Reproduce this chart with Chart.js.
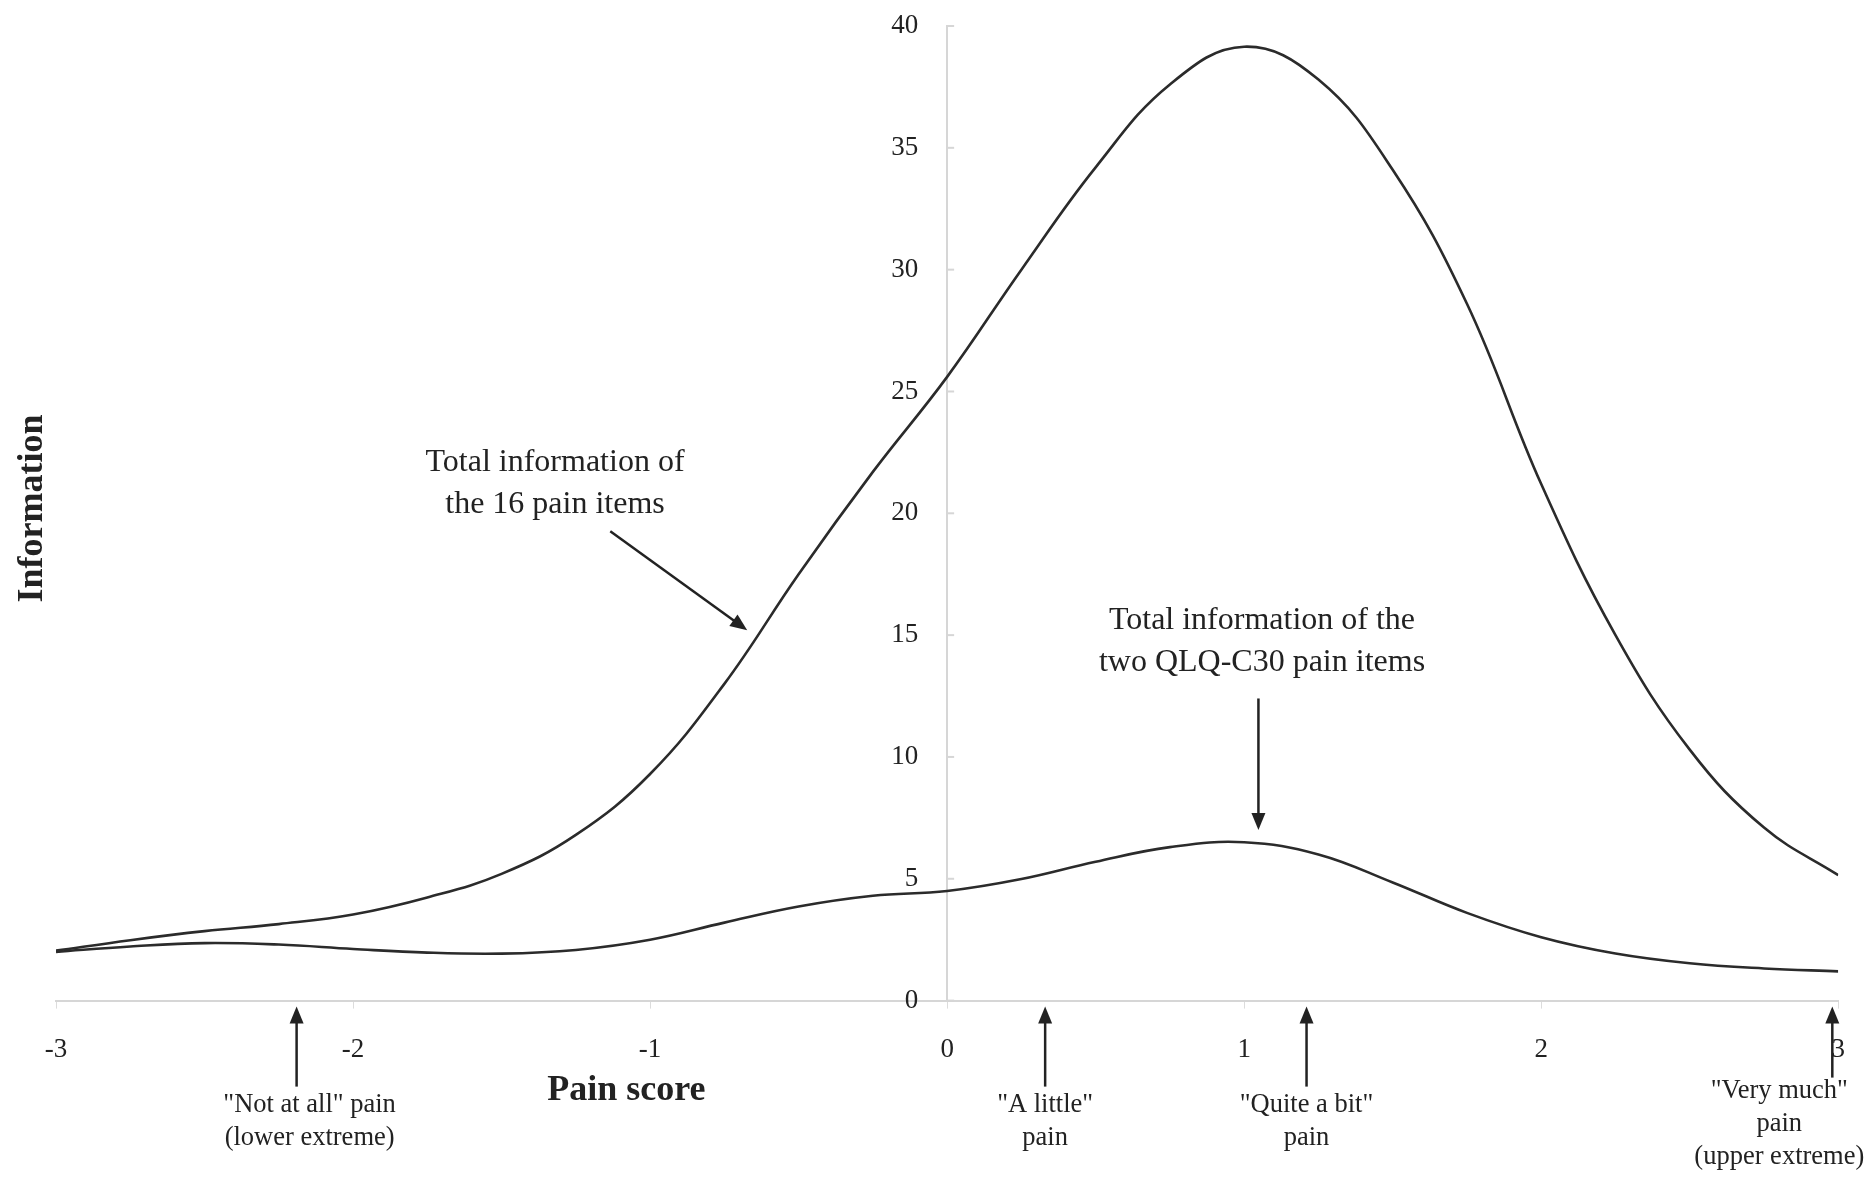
<!DOCTYPE html>
<html>
<head>
<meta charset="utf-8">
<title>Information of the pain items</title>
<script src="https://cdn.jsdelivr.net/npm/chart.js@4.4.0/dist/chart.umd.min.js"></script>
<style>
    html, body { margin: 0; padding: 0; background: #fff; }
    #wrap { width: 1870px; height: 1180px; }
</style>
</head>
<body>
<div id="wrap"><canvas id="infoChart" width="1870" height="1180"></canvas></div>
<script>
// pain score (theta) grid
var painScore = [-3, -2.75, -2.5, -2.25, -2, -1.75, -1.5, -1.25, -1, -0.75, -0.5, -0.25, 0,
                 0.25, 0.5, 0.75, 1, 1.25, 1.5, 1.75, 2, 2.25, 2.5, 2.75, 3];
// total information, 16 pain items
var info16 = [2.05, 2.48, 2.85, 3.14, 3.53, 4.23, 5.2, 6.8, 9.3, 13.0, 17.5, 21.7, 25.6,
              30.0, 34.2, 37.6, 39.15, 37.8, 34.1, 28.6, 21.2, 15.0, 10.3, 7.1, 5.15];
// total information, two QLQ-C30 pain items
var info2 = [2.0, 2.22, 2.36, 2.3, 2.12, 1.97, 1.93, 2.08, 2.5, 3.2, 3.86, 4.3, 4.5,
             4.99, 5.7, 6.3, 6.5, 6.0, 4.85, 3.6, 2.6, 1.93, 1.53, 1.32, 1.2];

var xTicks = [-3, -2, -1, 0, 1, 2, 3];
var yTicks = [0, 5, 10, 15, 20, 25, 30, 35, 40];

// response categories marked under the axis
var markerScores = [-2.19, 0.33, 1.21, 2.98];
var markerLabels = [
    ['"Not at all" pain', '(lower extreme)'],
    ['"A little"', 'pain'],
    ['"Quite a bit"', 'pain'],
    ['"Very much"', 'pain', '(upper extreme)']
];

var serif = "'Liberation Serif', 'Times New Roman', serif";

function toPoints(ys) {
    return painScore.map(function(x, i) { return { x: x, y: ys[i] }; });
}

function drawArrow(ctx, x1, y1, x2, y2) {
    var a = Math.atan2(y2 - y1, x2 - x1), len = 17, w = 7;
    ctx.beginPath();
    ctx.moveTo(x1, y1);
    ctx.lineTo(x2 - len * 0.6 * Math.cos(a), y2 - len * 0.6 * Math.sin(a));
    ctx.stroke();
    ctx.beginPath();
    ctx.moveTo(x2, y2);
    ctx.lineTo(x2 - len * Math.cos(a) + w * Math.sin(a), y2 - len * Math.sin(a) - w * Math.cos(a));
    ctx.lineTo(x2 - len * Math.cos(a) - w * Math.sin(a), y2 - len * Math.sin(a) + w * Math.cos(a));
    ctx.closePath();
    ctx.fill();
}

// labels, arrows and axis titles
var notesPlugin = {
    id: 'notes',
    afterDraw: function(chart) {
        var ctx = chart.ctx, xs = chart.scales.x, ys = chart.scales.y;
        var px = function(v) { return xs.getPixelForValue(v); };
        var py = function(v) { return ys.getPixelForValue(v); };
        var axisY = py(0);
        var axisX = px(0);

        ctx.save();
        // short tick marks on the inner side of the value axis
        ctx.strokeStyle = '#d6d6d6';
        ctx.lineWidth = 2;
        yTicks.forEach(function(v) {
            ctx.beginPath();
            ctx.moveTo(axisX, py(v));
            ctx.lineTo(axisX + 7, py(v));
            ctx.stroke();
        });

        ctx.fillStyle = '#222';
        ctx.strokeStyle = '#222';
        ctx.lineWidth = 2.5;
        ctx.textAlign = 'center';
        ctx.textBaseline = 'middle';

        // curve labels
        ctx.font = '32px ' + serif;
        ctx.fillText('Total information of', px(-1.32), py(22.1));
        ctx.fillText('the 16 pain items', px(-1.32), py(20.35));
        drawArrow(ctx, px(-1.134), py(19.26), px(-0.673), py(15.2));

        ctx.fillText('Total information of the', px(1.06), py(15.58));
        ctx.fillText('two QLQ-C30 pain items', px(1.06), py(13.87));
        drawArrow(ctx, px(1.048), py(12.4), px(1.048), py(7.0));

        // category markers
        ctx.font = '26.5px ' + serif;
        var textShift = [13, 0, 0, -53];
        markerScores.forEach(function(s, i) {
            var x = px(s);
            var lines = markerLabels[i];
            var tail = lines.length > 2 ? 77 : 86;
            drawArrow(ctx, x, axisY + tail, x, axisY + 6);
            var top = lines.length > 2 ? 90 : 104;
            lines.forEach(function(t, j) {
                ctx.fillText(t, x + textShift[i], axisY + top + j * 33);
            });
        });

        // axis titles
        ctx.font = 'bold 36px ' + serif;
        ctx.fillText('Pain score', px(-1.08), axisY + 90);
        ctx.translate(33, py(20.2));
        ctx.rotate(-Math.PI / 2);
        ctx.fillText('Information', 0, 0);
        ctx.restore();
    }
};

var ctx = document.getElementById('infoChart').getContext('2d');
new Chart(ctx, {
    type: 'line',
    data: {
        datasets: [{
            label: 'Total information of the 16 pain items',
            data: toPoints(info16),
            borderColor: '#2b2b2b',
            borderWidth: 2.6,
            pointRadius: 0,
            fill: false,
            tension: 0.4
        }, {
            label: 'Total information of the two QLQ-C30 pain items',
            data: toPoints(info2),
            borderColor: '#2b2b2b',
            borderWidth: 2.6,
            pointRadius: 0,
            fill: false,
            tension: 0.4
        }]
    },
    options: {
        responsive: false,
        animation: false,
        devicePixelRatio: 1,
        layout: { padding: { left: 56, right: 30, top: 26, bottom: 89 } },
        plugins: {
            legend: { display: false },
            tooltip: { enabled: false }
        },
        scales: {
            x: {
                type: 'linear',
                position: 'bottom',
                min: -3,
                max: 3,
                afterBuildTicks: function(scale) {
                    scale.ticks = xTicks.map(function(v) { return { value: v }; });
                },
                ticks: {
                    autoSkip: false,
                    maxRotation: 0,
                    padding: 25,
                    color: '#222',
                    font: { family: serif, size: 27 }
                },
                grid: { drawOnChartArea: false, drawTicks: true, tickLength: 8, color: '#dcdcdc' },
                border: { display: true, color: '#d6d6d6', width: 2 }
            },
            y: {
                type: 'linear',
                position: 'center',
                min: 0,
                max: 40,
                afterBuildTicks: function(scale) {
                    scale.ticks = yTicks.map(function(v) { return { value: v }; });
                },
                afterFit: function(scale) { scale.width = 0; },
                ticks: {
                    padding: 5,
                    color: '#222',
                    font: { family: serif, size: 27 }
                },
                grid: { drawOnChartArea: false, drawTicks: true, tickLength: 24, color: 'rgba(0,0,0,0)' },
                border: { display: true, color: '#d6d6d6', width: 2 }
            }
        }
    },
    plugins: [notesPlugin]
});
</script>
</body>
</html>
